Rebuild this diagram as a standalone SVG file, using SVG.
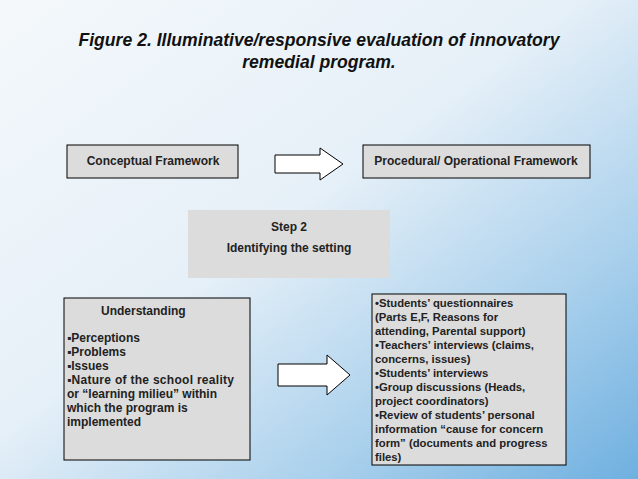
<svg xmlns="http://www.w3.org/2000/svg" width="638" height="479" viewBox="0 0 638 479">
<defs>
<linearGradient id="bg" x1="0" y1="0" x2="1" y2="1">
<stop offset="0" stop-color="#f4f8fb"/><stop offset="0.45" stop-color="#e6f0f8"/><stop offset="0.75" stop-color="#a9d0ec"/><stop offset="1" stop-color="#6fb0e0"/>
</linearGradient>
<style>
.b{fill:#dcdcdc;stroke:#000;stroke-width:1}
.t{font-family:"Liberation Sans",Arial,sans-serif;font-weight:bold;font-size:12px;fill:#222}
.s{font-size:11.3px}
.ar{fill:#fff;stroke:#000;stroke-width:1}
</style>
</defs>
<rect width="638" height="479" fill="url(#bg)"/>
<text x="319" y="46" text-anchor="middle" font-family="Liberation Sans,Arial,sans-serif" font-weight="bold" font-style="italic" font-size="17.6" fill="#111">Figure 2. Illuminative/responsive evaluation of innovatory</text>
<text x="319" y="68" text-anchor="middle" font-family="Liberation Sans,Arial,sans-serif" font-weight="bold" font-style="italic" font-size="17.6" fill="#111">remedial program.</text>
<g id="conceptual"><rect class="b" x="67" y="145" width="171" height="33"/><text class="t" x="153" y="165" text-anchor="middle">Conceptual Framework</text></g>
<g id="procedural"><rect class="b" x="363" y="145" width="227" height="33"/><text class="t" x="476" y="165" text-anchor="middle">Procedural/ Operational Framework</text></g>
<g id="step2"><rect x="188" y="210" width="202" height="68" fill="#dcdcdc"/><text class="t" x="289" y="231" text-anchor="middle" font-size="13">Step 2</text><text class="t" x="289" y="252" text-anchor="middle" font-size="13">Identifying the setting</text></g>
<g id="understanding"><rect class="b" x="64" y="298" width="186" height="162"/>
<text class="t" x="101" y="315">Understanding</text>
<text class="t" x="67" y="342">▪Perceptions</text>
<text class="t" x="67" y="356">▪Problems</text>
<text class="t" x="67" y="370">▪Issues</text>
<text class="t" x="67" y="384" textLength="167">▪Nature of the school reality</text>
<text class="t" x="67" y="398">or “learning milieu” within</text>
<text class="t" x="67" y="412">which the program is</text>
<text class="t" x="67" y="426">implemented</text></g>
<g id="methods"><rect class="b" x="372" y="294" width="194" height="171"/>
<text class="t s" x="375" y="307">•Students’  questionnaires</text>
<text class="t s" x="375" y="321">(Parts E,F, Reasons for</text>
<text class="t s" x="375" y="335">attending, Parental support)</text>
<text class="t s" x="375" y="349">•Teachers’ interviews (claims,</text>
<text class="t s" x="375" y="363">concerns, issues)</text>
<text class="t s" x="375" y="377">•Students’ interviews</text>
<text class="t s" x="375" y="391">•Group discussions (Heads,</text>
<text class="t s" x="375" y="405">project coordinators)</text>
<text class="t s" x="375" y="419">•Review of students’ personal</text>
<text class="t s" x="375" y="433">information “cause for concern</text>
<text class="t s" x="375" y="447">form” (documents and progress</text>
<text class="t s" x="375" y="461">files)</text></g>
<g id="connectors">
<polygon class="ar" points="275,155 320,155 320,148 343,164 320,180 320,173 275,173"/>
<polygon class="ar" points="278,364 327,364 327,355 350,375 327,395 327,386 278,386"/>
</g>
</svg>
